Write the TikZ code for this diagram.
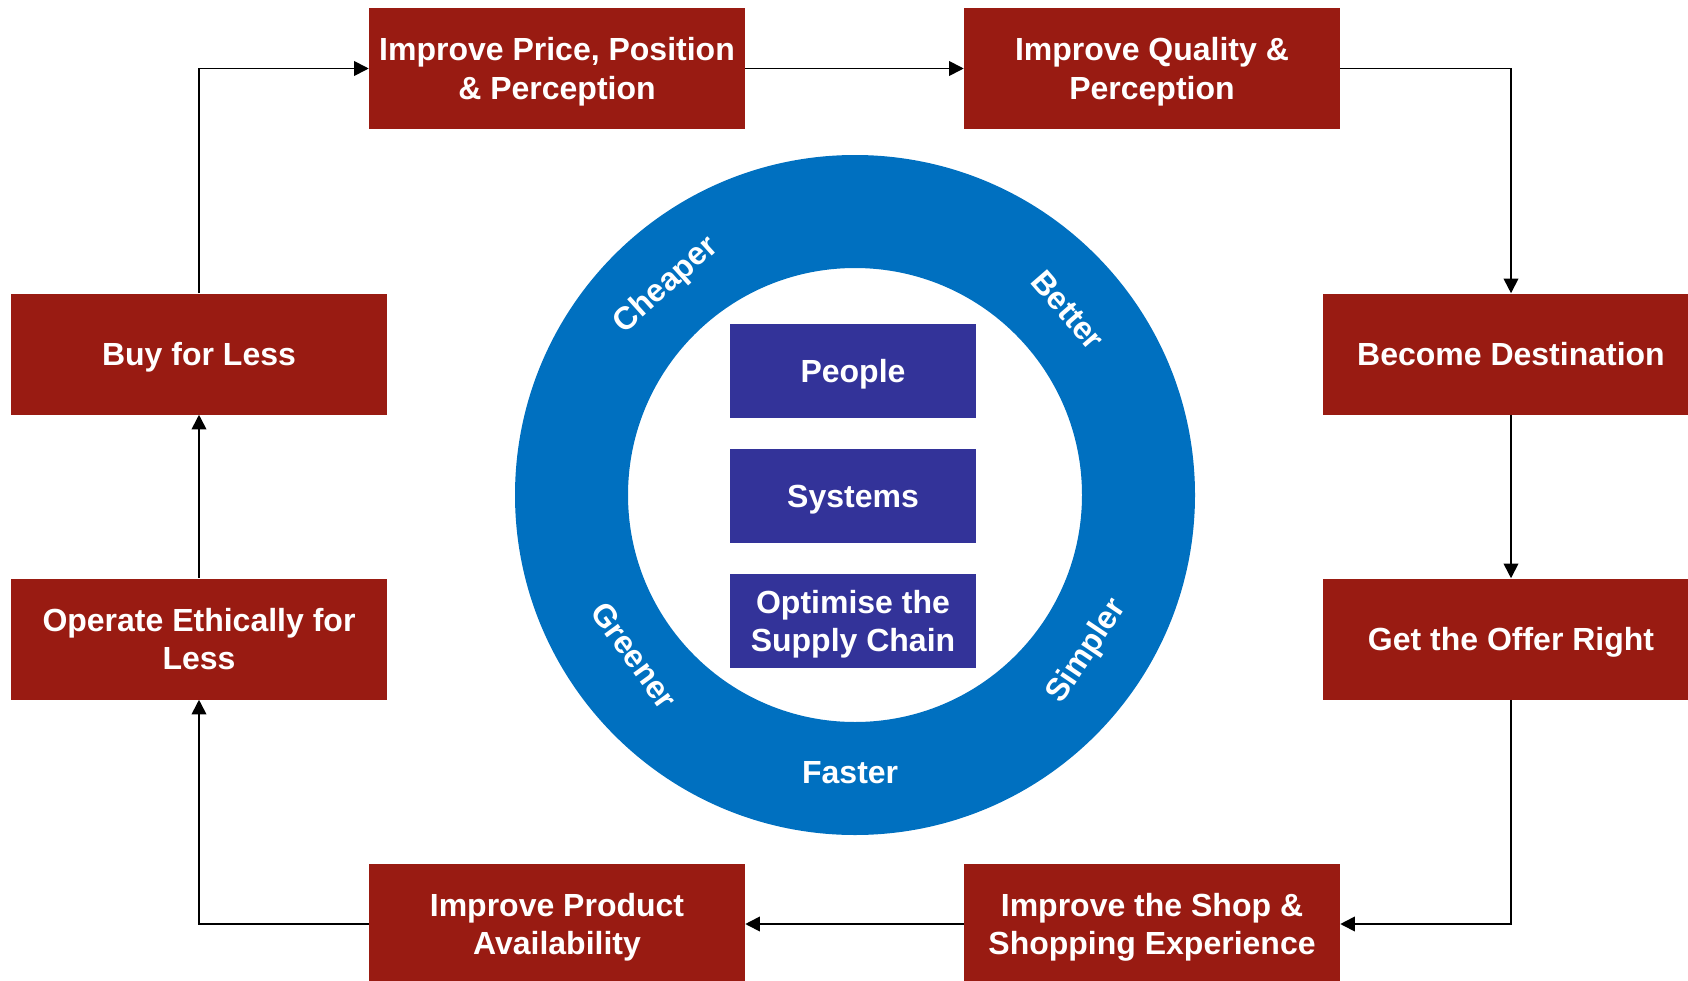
\documentclass[tikz,border=0pt]{standalone}
\usepackage{fontspec}
\setmainfont{Liberation Sans}
\usetikzlibrary{arrows.meta}
\definecolor{stagered}{RGB}{153,27,18}
\definecolor{corepurple}{RGB}{51,51,153}
\definecolor{ringblue}{RGB}{0,112,192}
\tikzset{
	stage/.style={rectangle,fill=stagered,text=white,minimum width=282pt,minimum height=90.75pt,align=center,inner sep=0pt,text depth=0pt},
	core/.style={rectangle,fill=corepurple,text=white,minimum width=184pt,minimum height=71pt,align=center,inner sep=0pt,text depth=0pt},
	ringlabel/.style={text=white,inner sep=0pt},
	flow/.style={-{Triangle[length=11pt,width=11pt]},line width=1.3pt}
}
\begin{document}
\begin{tikzpicture}[x=0.75pt,y=0.75pt,font=\fontsize{24}{29}\selectfont\bfseries]
				\useasboundingbox (0,0) rectangle (1688,-981);
				% ring
				\coordinate (hub) at (855,-495);
				\fill[ringblue,even odd rule] (hub) circle (340) circle (227);
				\node[ringlabel,rotate=42] (cheaper) at ([shift={(132:282)}]hub){Cheaper};
				\node[ringlabel,rotate=-49] (better) at ([shift={(41:282)}]hub){Better};
				\node[ringlabel,rotate=-54] (greener) at ([shift={(216:273)}]hub){Greener};
				\node[ringlabel,rotate=56] (simpler) at ([shift={(-34:280)}]hub){Simpler};
				\node[ringlabel] (faster) at ([shift={(269:278)}]hub){Faster};
				% core
				\node[core] (people) at (853,-371){People};
				\node[core] (systems) at (853,-496){Systems};
				\node[core] (supply) at (853,-621){Optimise the\\Supply Chain};
				% stages
				\node[stage] (price) at (557,-68.5){Improve Price, Position\\\& Perception};
				\node[stage] (quality) at (1152,-68.5){Improve Quality \&\\Perception};
				\node[stage] (buy) at (199,-354){Buy for Less};
				\node[stage] (dest) at (1511,-354){Become Destination};
				\node[stage] (ethic) at (199,-639){Operate Ethically for\\Less};
				\node[stage] (offer) at (1511,-639){Get the Offer Right};
				\node[stage] (avail) at (557,-924){Improve Product\\Availability};
				\node[stage] (shop) at (1152,-924){Improve the Shop \&\\Shopping Experience};
				\draw[flow] (buy.north)|-(price.west);
				\draw[flow] (price)--(quality);
				\draw[flow] (quality.east)-|(dest.north);
				\draw[flow] (dest)--(offer);
				\draw[flow] (offer.south)|-(shop.east);
				\draw[flow] (shop)--(avail);
				\draw[flow] (avail.west)-|(ethic.south);
				\draw[flow] (ethic)--(buy);
\end{tikzpicture}
\end{document}
